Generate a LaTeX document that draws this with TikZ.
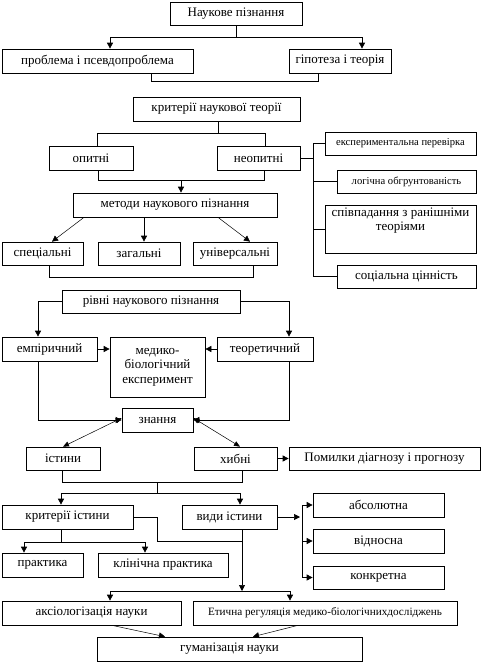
\documentclass[tikz,border=0pt]{standalone}
\usepackage{fontspec}
\setmainfont{Liberation Serif}
\usetikzlibrary{arrows.meta,calc}
\newcommand\mkbox[7][]{\node[box,#1,minimum width={(#5)-(#3)},minimum height={(#6)-(#4)}] (#2) at ({((#3)+(#5))/2},{((#4)+(#6))/2}) {#7};}
\begin{document}
\begin{tikzpicture}[x=1pt,y=-1pt,
 box/.style={draw,line width=0.7pt,inner sep=0pt,align=center,font=\fontsize{13}{14.5}\selectfont},
 small/.style={font=\fontsize{10.6}{12}\selectfont},
 mid/.style={font=\fontsize{11.2}{12.5}\selectfont},
 ln/.style={line width=0.7pt},
 arr/.style={ln,-{Triangle[length=6pt,width=6pt]}},
 thinarr/.style={line width=0.5pt,-{Triangle[length=6pt,width=6pt]}},
 dbl/.style={line width=0.5pt,{Triangle[length=6pt,width=5pt]}-{Triangle[length=6pt,width=5pt]}}]
\useasboundingbox (0,0) rectangle (482,662);

% top
\mkbox{n1}{170}{2}{302}{25}{Наукове пізнання}
\mkbox{p1}{2}{49}{193}{73}{проблема і псевдопроблема}
\mkbox{p2}{289}{49}{391}{73}{гіпотеза і теорія}
\coordinate (j1) at (236,37);
\coordinate (j1l) at (110,37);
\coordinate (j1r) at (362,37);
\draw[ln] (n1.south) -- (j1);
\draw[ln] (j1l) -- (j1r);
\draw[arr] (j1l) -- (p1.north -| j1l);
\draw[arr] (j1r) -- (p2.north -| j1r);
\draw[ln] (p1.south -| 151,0) -- (151,81) -- (318,81) -- (p2.south -| 318,0);

% criteria
\mkbox{k}{133}{97}{300}{121}{критерії наукової теорії}
\mkbox{opt}{49}{146}{133}{170}{опитні}
\mkbox{neopt}{217}{146}{300}{170}{неопитні}
\draw[ln] (k.south -| 218,0) -- (218,133);
\draw[ln] (opt.north -| 97,0) -- (97,133) -- (265,133) -- (neopt.north -| 265,0);
\draw[ln] (opt.south -| 98,0) -- (98,180) -- (264,180) -- (neopt.south -| 264,0);
\coordinate (b2m) at (181,180);

\mkbox[small]{e1}{325}{132}{476}{155}{експериментальна перевірка}
\mkbox[small]{e2}{337}{170}{476}{193}{логічна обгрунтованість}
\mkbox{e3}{325}{205}{476}{253}{співпадання з ранішніми\\теоріями\\[5pt]}
\mkbox{e4}{337}{265}{476}{288}{соціальна цінність}
\draw[ln] (neopt.east) -- (neopt.east -| 313,0);
\draw[ln] (e1.west -| 313,0) -- (e4.west -| 313,0);
\draw[ln] (e1.west -| 313,0) -- (e1.west);
\draw[ln] (e2.west -| 313,0) -- (e2.west);
\draw[ln] (e3.west -| 313,0) -- (e3.west);
\draw[ln] (e4.west -| 313,0) -- (e4.west);

% methods
\mkbox{met}{73}{193}{277}{217}{методи наукового пізнання}
\draw[arr] (b2m) -- (met.north -| b2m);
\mkbox{sp}{2}{242}{83}{265}{спеціальні}
\mkbox{zag}{98}{242}{180}{265}{загальні}
\mkbox{un}{193}{242}{277}{265}{універсальні}
\draw[thinarr] (met.south -| 84,0) -- (sp.north -| 52,0);
\draw[arr] (met.south -| 144,0) -- (zag.north -| 144,0);
\draw[thinarr] (met.south -| 218,0) -- (un.north -| 250,0);
\draw[ln] (sp.south -| 49,0) -- (49,277) -- (253,277) -- (un.south -| 253,0);

% levels
\mkbox{riv}{62}{290}{240}{313}{рівні наукового пізнання}
\mkbox{emp}{2}{337}{97}{361}{емпіричний}
\mkbox{med}{110}{337}{205}{397}{медико-\\біологічний\\експеримент}
\mkbox{teor}{217}{337}{313}{361}{теоретичний}
\draw[arr] (riv.west) -| (emp.north -| 38,0);
\draw[arr] (riv.east) -| (teor.north -| 289,0);
\draw[arr] (emp.east) -- (med.west |- emp.east);
\draw[arr] (teor.west) -- (med.east |- teor.west);

\mkbox{zn}{122}{408}{193}{432}{знання}
\draw[arr] (emp.south -| 38,0) |- (zn.west);
\draw[arr] (teor.south -| 289,0) |- (zn.east);
\mkbox{ist}{26}{447}{100}{470}{істини}
\mkbox{hyb}{194}{447}{277}{470}{хибні}
\mkbox{pom}{289}{447}{480}{470}{Помилки діагнозу і прогнозу}
\draw[dbl] ([yshift=2]zn.west) -- (ist.north -| 63,0);
\draw[dbl] ([yshift=2]zn.east) -- (hyb.north -| 240,0);
\draw[arr] (hyb.east) -- (pom.west);
\draw[ln] (ist.south -| 62,0) -- (62,482) -- (242,482) -- (hyb.south -| 242,0);
\draw[ln] (157,482) -- (157,493);
\coordinate (j5l) at (61,493);
\coordinate (j5r) at (240,493);
\draw[ln] (j5l) -- (j5r);

% truth
\mkbox{kri}{2}{505}{133}{529}{критерії істини}
\mkbox{vid}{182}{505}{277}{529}{види істини}
\draw[arr] (j5l) -- (kri.north -| j5l);
\draw[arr] (j5r) -- (vid.north -| j5r);
\mkbox{abs}{313}{493}{444}{517}{абсолютна}
\mkbox{vidn}{313}{529}{444}{553}{відносна}
\mkbox{kon}{313}{566}{444}{589}{конкретна}
\draw[arr] (vid.east) -- (vid.east -| 300,0);
\draw[ln] (abs.west -| 302,0) -- (kon.west -| 302,0);
\draw[arr] (abs.west -| 302,0) -- (abs.west);
\draw[arr] (vidn.west -| 302,0) -- (vidn.west);
\draw[arr] (kon.west -| 302,0) -- (kon.west);

\mkbox{pr}{2}{553}{83}{577}{практика}
\mkbox{kl}{98}{553}{228}{577}{клінічна практика}
\draw[ln] (kri.south -| 61,0) -- (61,542);
\coordinate (j6l) at (24,542);
\coordinate (j6r) at (145,542);
\draw[ln] (j6l) -- (j6r);
\draw[arr] (j6l) -- (pr.north -| j6l);
\draw[arr] (j6r) -- (kl.north -| j6r);
\draw[ln] (kri.east) -- (157,517) -- (157,541) -- (242,541);

\coordinate (j7) at (242,591);
\coordinate (j7l) at (110,591);
\coordinate (j7r) at (290,591);
\draw[arr] (vid.south -| j7) -- (j7);
\draw[ln] (j7l) -- (j7r);
\mkbox{aks}{2}{601}{181}{625}{аксіологізація науки}
\mkbox[mid]{et}{193}{601}{457}{625}{Етична регуляція медико-біологічнихдосліджень}
\draw[arr] (j7l) -- (aks.north -| j7l);
\draw[arr] (j7r) -- (et.north -| j7r);
\mkbox{gum}{97}{637}{362}{661}{гуманізація науки}
\draw[thinarr] (aks.south -| 112,0) -- (gum.north -| 165,0);
\draw[thinarr] (et.south -| 298,0) -- (gum.north -| 253,0);
\end{tikzpicture}
\end{document}
